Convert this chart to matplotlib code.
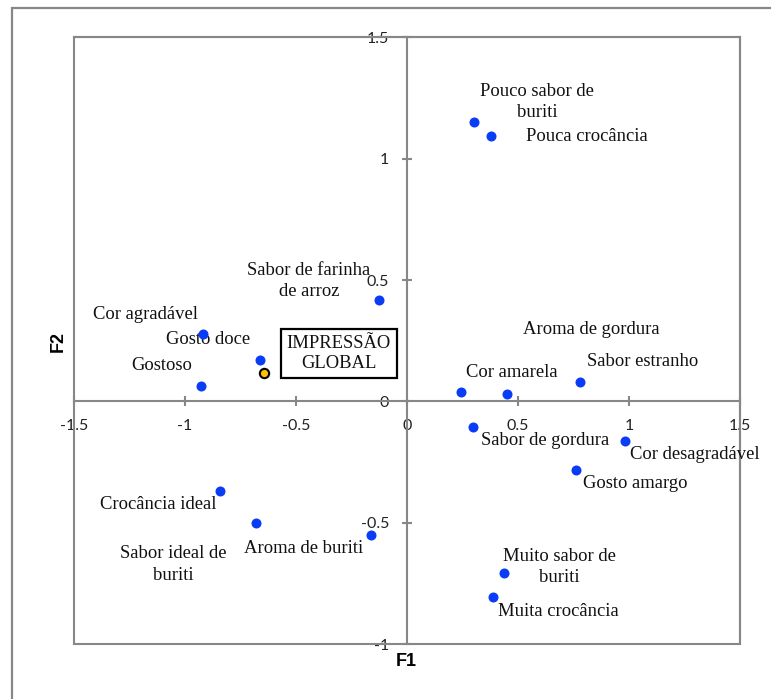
"""
Mapa de preferência (F1 x F2) — atributos sensoriais e impressão global.
Saída: out.png
"""
import matplotlib
matplotlib.use("Agg")
import matplotlib.pyplot as plt
from matplotlib.patches import Rectangle

DPI = 100
W, H = 771, 699

# atributos (F1, F2)
atributos = [
    "Pouco sabor de\nburiti", "Pouca crocância", "Sabor de farinha\nde arroz",
    "Cor agradável", "Gosto doce", "Gostoso", "Aroma de gordura", "Cor amarela",
    "Sabor estranho", "Sabor de gordura", "Cor desagradável", "Gosto amargo",
    "Crocância ideal", "Sabor ideal de\nburiti", "Aroma de buriti",
    "Muito sabor de\nburiti", "Muita crocância",
]
f1 = [0.302, 0.377, -0.126, -0.917, -0.662, -0.928, 0.242, 0.450,
      0.779, 0.298, 0.981, 0.761, -0.842, -0.680, -0.162, 0.438, 0.388]
f2 = [1.152, 1.095, 0.418, 0.278, 0.171, 0.065, 0.038, 0.032,
      0.082, -0.104, -0.163, -0.282, -0.369, -0.499, -0.550, -0.707, -0.806]

# deslocamento dos rótulos em pixels (dx, dy; dy positivo = para baixo)
desloc = [(63, -20), (96, 1), (-70, -19), (-58, -20), (-52, -20), (-39, -20),
          (131, -63), (5, -21), (63, -20), (72, 14), (70, 13), (59, 14),
          (-62, 13), (-83, 42), (-67, 13), (55, -6), (65, 14)]

# variável suplementar
global_nome = "IMPRESSÃO\nGLOBAL"
global_f1, global_f2 = -0.644, 0.119
global_desloc = (75, -19)

xticks = [-1.5, -1, -0.5, 0, 0.5, 1, 1.5]
yticks = [-1, -0.5, 0, 0.5, 1, 1.5]

CINZA = "#878787"
AZUL = "#0a3cf5"
SERIF = "Liberation Serif"


def px(v):
    return v * 72.0 / DPI


fig = plt.figure(figsize=(W / DPI, H / DPI), dpi=DPI)
ax = fig.add_axes([73.7 / W, 1 - 644.3 / H, (740.3 - 73.7) / W, (644.3 - 37.3) / H])

ax.set_xlim(-1.5, 1.5)
ax.set_ylim(-1, 1.5)

for s in ("left", "bottom"):
    ax.spines[s].set_position(("data", 0))
for s in ax.spines.values():
    s.set_color(CINZA); s.set_linewidth(1.5)
ax.add_patch(Rectangle((0, 0), 1, 1, transform=ax.transAxes, fill=False,
                       ec=CINZA, lw=1.5, zorder=2.5, clip_on=False))

ax.set_xticks(xticks)
ax.set_yticks(yticks)
ax.set_xticklabels([f"{t:g}" for t in xticks])
ax.set_yticklabels([f"{t:g}" for t in yticks])
ax.tick_params(direction="inout", length=px(10), width=1.5, color=CINZA,
               labelsize=11.5, labelcolor="#222222")
ax.tick_params(axis="x", pad=px(13))
ax.tick_params(axis="y", pad=px(13))
for lab in ax.get_xticklabels() + ax.get_yticklabels():
    lab.set_family("Lato")

ax.scatter(f1, f2, s=52, color=AZUL, zorder=4, linewidths=0)
ax.scatter([global_f1], [global_f2], s=45, color="#ffc000", edgecolors="black",
           linewidths=1.5, zorder=4)

for nome, x, y, (dx, dy) in zip(atributos, f1, f2, desloc):
    ax.annotate(nome, (x, y), xytext=(px(dx), -px(dy)), textcoords="offset points",
                ha="center", va="center", fontsize=13.4, family=SERIF,
                linespacing=1.35, color="#111111")

ax.annotate(global_nome, (global_f1, global_f2),
            xytext=(px(global_desloc[0]), -px(global_desloc[1])),
            textcoords="offset points", ha="center", va="center",
            fontsize=13.4, family=SERIF, linespacing=1.2, color="#111111",
            bbox=dict(boxstyle="square,pad=0.33", fc="white", ec="black", lw=1.6))

fig.text(406 / W, 1 - 661.5 / H, "F1", ha="center", va="center",
         fontsize=13, fontweight="bold", family="Liberation Sans")
fig.text(58.5 / W, 1 - 342 / H, "F2", ha="center", va="center", rotation=90,
         fontsize=13, fontweight="bold", family="Liberation Sans")

# moldura externa
fig.add_artist(Rectangle((12.3 / W, -0.5), 1.5, 1.5 - 8.3 / H,
                         transform=fig.transFigure, fill=False, ec=CINZA, lw=1.6))

fig.savefig("out.png", dpi=DPI)
